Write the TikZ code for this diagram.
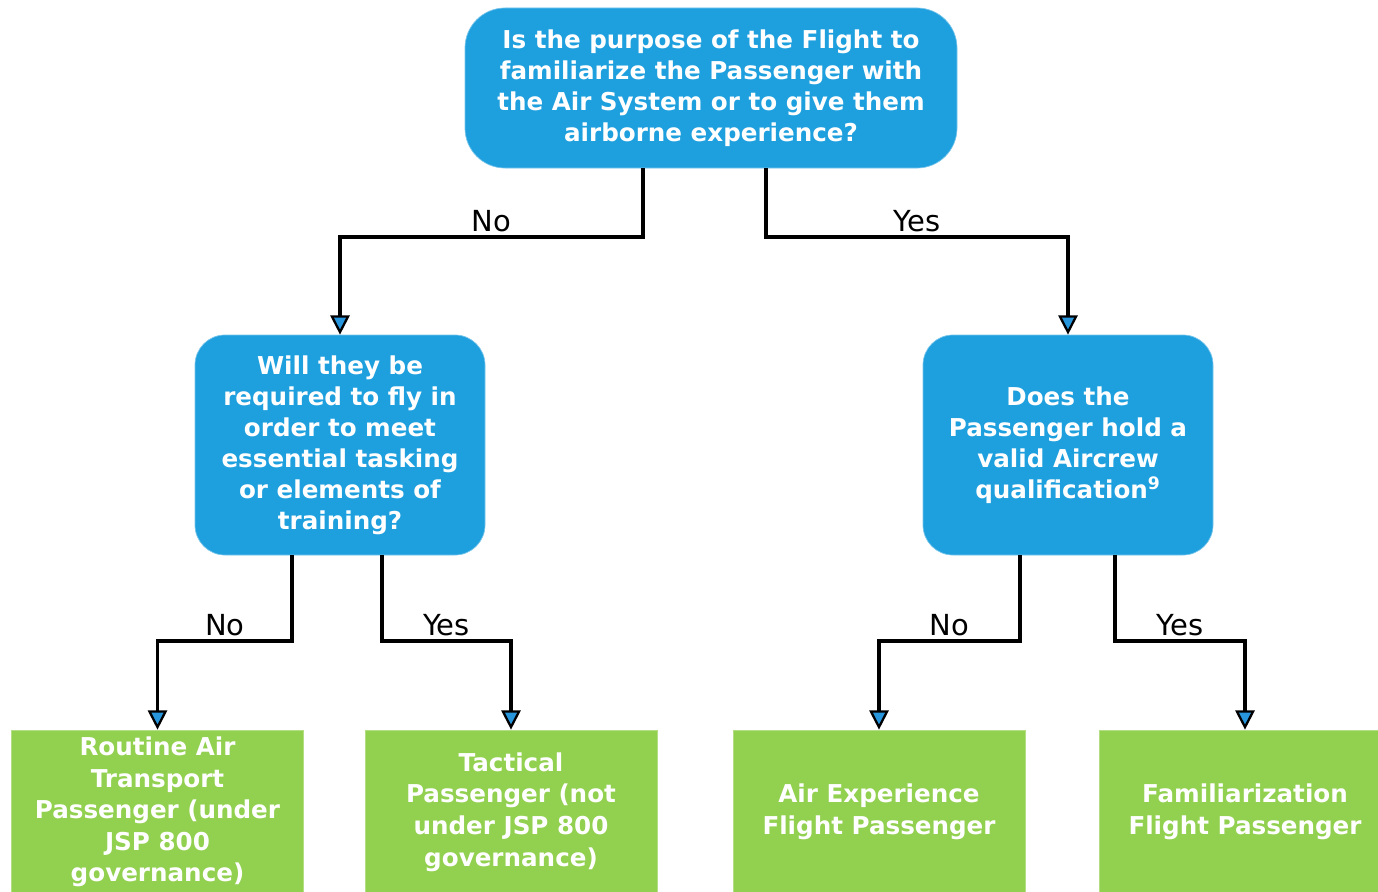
\documentclass[tikz,border=0pt]{standalone}
\usepackage{fontspec}
\setmainfont{DejaVu Sans}
\usetikzlibrary{arrows.meta}
\definecolor{qblue}{RGB}{30,159,222}
\definecolor{pgreen}{RGB}{146,208,80}
\definecolor{tipblue}{RGB}{40,150,220}
\tikzset{
    question/.style={fill=qblue,draw=qblue!60!white,thin,rounded corners=0.6cm,text=white,
        font=\bfseries\fontsize{14}{17.6}\selectfont,align=center,inner sep=0pt},
    outcome/.style={fill=pgreen,draw=pgreen!70!white,thin,text=white,minimum width=5.84cm,
        minimum height=3.28cm,font=\bfseries\fontsize{14}{18}\selectfont,align=center,inner sep=0pt},
    flow/.style={line width=2.2pt,-{Triangle[length=11pt,width=11pt,fill=tipblue,line width=1.3pt]}},
    answer/.style={anchor=south,font=\fontsize{16.5}{19}\selectfont,inner sep=2pt}
}
\begin{document}
\begin{tikzpicture}
        \useasboundingbox (0,0) rectangle (27.56,-17.84);
        % questions
        \node[question,minimum width=9.84cm,minimum height=3.2cm,rounded corners=0.8cm] (purpose) at (14.22,-1.76)
            {Is the purpose of the Flight to\\familiarize the Passenger with\\the Air System or to give them\\airborne experience?};
        \node[question,minimum width=5.8cm,minimum height=4.4cm] (tasking) at (6.8,-8.9)
            {Will they be\\required to fly in\\order to meet\\essential tasking\\or elements of\\training?};
        \node[question,minimum width=5.8cm,minimum height=4.4cm] (aircrew) at (21.36,-8.9)
            {Does the\\Passenger hold a\\valid Aircrew\\qualification\textsuperscript{9}};
        % outcomes
        \node[outcome] (routine) at (3.15,-16.24)
            {Routine Air\\Transport\\Passenger (under\\JSP 800\\governance)};
        \node[outcome] (tactical) at (10.22,-16.24)
            {Tactical\\Passenger (not\\under JSP 800\\governance)};
        \node[outcome] (airexp) at (17.58,-16.24)
            {Air Experience\\Flight Passenger};
        \node[outcome] (famil) at (24.9,-16.24)
            {Familiarization\\Flight Passenger};
        % purpose
        \draw[flow] ([xshift=-1.36cm]purpose.south) -- ++(0,-1.38) -| node[answer,pos=0.25] {No} (tasking.north);
        \draw[flow] ([xshift=1.1cm]purpose.south) -- ++(0,-1.38) -| node[answer,pos=0.25] {Yes} (aircrew.north);
        % tasking
        \draw[flow] ([xshift=-0.96cm]tasking.south) -- ++(0,-1.72) -| node[answer,pos=0.25] {No} (routine.north);
        \draw[flow] ([xshift=0.84cm]tasking.south) -- ++(0,-1.72) -| node[answer,pos=0.25] {Yes} (tactical.north);
        % aircrew
        \draw[flow] ([xshift=-0.96cm]aircrew.south) -- ++(0,-1.72) -| node[answer,pos=0.25] {No} (airexp.north);
        \draw[flow] ([xshift=0.94cm]aircrew.south) -- ++(0,-1.72) -| node[answer,pos=0.25] {Yes} (famil.north);
    \end{tikzpicture}
\end{document}
